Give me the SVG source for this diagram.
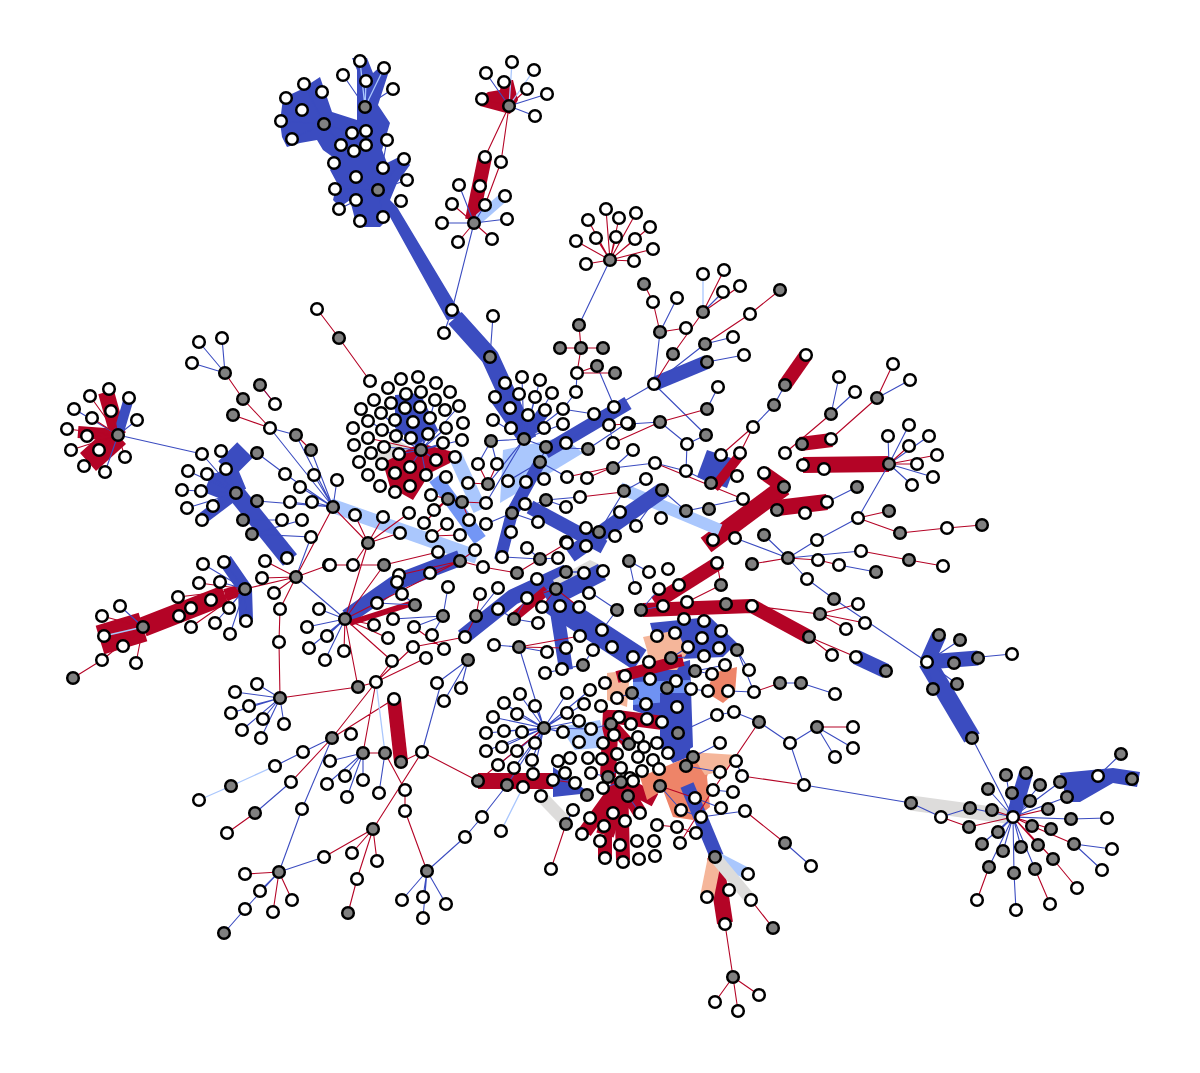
<svg xmlns="http://www.w3.org/2000/svg" width="1200" height="1073" viewBox="0 0 1200 1073">
<style>
.w{fill:#fff;stroke:#000;stroke-width:2.5}
.g{fill:#808080;stroke:#000;stroke-width:2.5}
.eb{stroke:#3b4cc0;stroke-width:1.1;fill:none}
.er{stroke:#b40426;stroke-width:1.1;fill:none}
.el{stroke:#aac7fd;stroke-width:1.3;fill:none}
.TB{stroke:#3b4cc0;fill:none}
.TR{stroke:#b40426;fill:none}
.TL{stroke:#aac7fd;fill:none}
.TM{stroke:#7396f5;fill:none}
.TP{stroke:#f5b69a;fill:none}
.TG{stroke:#dddcdb;fill:none}
.PB{fill:#3b4cc0}
.PR{fill:#b40426}
.PL{fill:#aac7fd}
.PM{fill:#6f92f3}
.PP{fill:#f5b69a}
.PS{fill:#ee8468}
.PG{fill:#dddcdb}
</style>
<rect width="1200" height="1073" fill="#fff"/>
<g id="connectors">
<g id="thick" stroke-linejoin="round">
<polygon class="PB" points="282,137 280,122 283,98 300,90 320,77 332,112 357,120 357,70 352,58 367,58 373,73 382,65 390,68 378,105 390,123 382,150 387,163 403,155 410,165 397,183 390,200 397,207 463,317 447,320 390,217 380,227 357,227 350,200 340,207 333,200 337,183 330,170 337,160 323,150 317,140 300,143 287,147"/>
<path class="TB" stroke-width="18" d="M455,318L490,357L528,440"/>
<polygon class="PR" points="480,98 488,92 500,90 502,80 513,80 518,100 510,114 480,106"/>
<path class="TR" stroke-width="14" d="M485,157L472,220"/>
<path class="TL" stroke-width="10" d="M474,223L505,196"/>
<path class="TB" stroke-width="14" d="M654,384L707,362"/>
<path class="TR" stroke-width="14" d="M806,355L785,385"/>
<polygon class="PB" points="707,450 737,460 727,488 697,477"/>
<path class="TR" stroke-width="10" d="M740,455L714,488"/>
<path class="TR" stroke-width="14" d="M800,444L832,440"/>
<path class="TR" stroke-width="16" d="M803,465L889,464"/>
<path class="TR" stroke-width="18" d="M706,545L784,487"/>
<path class="TR" stroke-width="14" d="M784,487L764,473"/>
<path class="TR" stroke-width="16" d="M777,508L827,502"/>
<path class="TL" stroke-width="12" d="M620,488L720,530"/>
<path class="TB" stroke-width="16" d="M570,555L663,490"/>
<path class="TB" stroke-width="12" d="M524,439L495,397M524,439L510,408M524,439L528,415M524,439L545,410"/>
<polygon class="PL" points="503,450 563,437 583,453 517,493 500,503"/>
<path class="TB" stroke-width="14" d="M545,452L628,403"/>
<path class="TB" stroke-width="14" d="M530,507L604,547"/>
<path class="TB" stroke-width="12" d="M540,462L512,513L500,560"/>
<path class="TL" stroke-width="14" d="M330,505L477,557"/>
<path class="TL" stroke-width="14" d="M455,455L480,510"/>
<path class="TM" stroke-width="14" d="M435,478L480,540"/>
<polygon class="PB" points="395,395 420,393 438,430 418,445 395,428"/>
<polygon class="PG" points="397,440 410,447 403,460 370,460"/>
<polygon class="PR" points="383,463 420,443 453,452 450,463 430,473 413,500 390,487"/>
<path class="TB" stroke-width="16" d="M347,617L397,582L460,558"/>
<path class="TR" stroke-width="6" d="M350,623L413,603"/>
<path class="TB" stroke-width="16" d="M463,637L513,597L567,572"/>
<path class="TR" stroke-width="10" d="M513,618L547,590"/>
<polygon class="PG" points="553,580 590,560 603,566 560,595"/>
<path class="TB" stroke-width="24" d="M548,600L640,660"/>
<path class="TB" stroke-width="18" d="M547,600L602,572"/>
<path class="TB" stroke-width="14" d="M556,605L566,670"/>
<polygon class="PB" points="650,623 710,617 737,643 723,657 660,660"/>
<polygon class="PB" points="633,677 690,660 693,747 677,757 660,720 633,710"/>
<polygon class="PP" points="643,637 677,630 687,653 677,670 650,670 647,650"/>
<polygon class="PS" points="713,673 737,667 735,693 723,703 707,693"/>
<polygon class="PP" points="607,673 630,670 627,707 607,700"/>
<polygon class="PM" points="633,682 690,680 690,700 633,705"/>
<path class="TR" stroke-width="14" d="M643,610L752,606L809,637"/>
<path class="TR" stroke-width="14" d="M655,603L720,562"/>
<path class="TR" stroke-width="12" d="M617,677L683,660"/>
<path class="TR" stroke-width="14" d="M617,717L663,723"/>
<path class="TR" stroke-width="16" d="M611,710L608,777"/>
<path class="TR" stroke-width="12" d="M611,724L629,744"/>
<path class="TR" stroke-width="16" d="M478,781L553,781"/>
<path class="TG" stroke-width="12" d="M540,795L567,823"/>
<path class="TR" stroke-width="18" d="M621,782L605,835"/>
<path class="TR" stroke-width="14" d="M621,782L623,860M621,782L640,813M621,782L585,832M621,782L655,800M605,835L605,858"/>
<polygon class="PB" points="660,693 690,693 690,757 673,763 660,747"/>
<polygon class="PS" points="640,777 700,752 710,765 707,777 710,807 693,820 673,817 663,790 647,800"/>
<polygon class="PP" points="690,752 737,755 727,770 705,775"/>
<polygon class="PL" points="560,727 600,720 607,747 575,750"/>
<polygon class="PB" points="553,767 590,793 553,797"/>
<path class="TB" stroke-width="14" d="M687,785L717,857"/>
<path class="TR" stroke-width="16" d="M715,857L725,923"/>
<path class="TP" stroke-width="14" d="M715,857L707,897"/>
<path class="TL" stroke-width="12" d="M715,857L748,874"/>
<path class="TG" stroke-width="12" d="M715,857L751,900"/>
<path class="TB" stroke-width="15" d="M856,657L886,671"/>
<path class="TB" stroke-width="15" d="M927,662L939,635M927,662L978,658"/>
<path class="TB" stroke-width="18" d="M927,662L972,738"/>
<path class="TG" stroke-width="15" d="M911,803L1013,817"/>
<path class="TB" stroke-width="14" d="M1013,817L1026,773"/>
<polygon class="PB" points="1060,773 1113,768 1140,772 1137,787 1113,783 1080,802 1067,802"/>
<path class="TR" stroke-width="16" d="M118,435L106,392"/>
<path class="TR" stroke-width="24" d="M118,435L88,462"/>
<path class="TR" stroke-width="12" d="M118,435L78,432"/>
<path class="TB" stroke-width="10" d="M118,435L129,398"/>
<path class="TB" stroke-width="22" d="M226,469L245,450M226,469L236,493M208,482L236,493"/>
<path class="TB" stroke-width="18" d="M236,493L290,560"/>
<path class="TB" stroke-width="12" d="M236,493L203,518"/>
<path class="TR" stroke-width="30" d="M100,640L143,627"/>
<path class="TR" stroke-width="20" d="M143,627L225,595"/>
<path class="TR" stroke-width="12" d="M225,595L245,589"/>
<path class="TB" stroke-width="14" d="M225,560L245,589L246,620"/>
<path class="TR" stroke-width="14" d="M394,699L401,762"/>
</g>
<path class="eb" d="M378,190L356,177M378,190L335,189M378,190L339,209M378,190L383,217M378,190L407,180M378,190L404,159M378,190L383,168M378,190L387,140M365,107L343,75M365,107L393,89M324,124L304,84M324,124L281,121M324,124L292,139M324,124L341,145M324,124L352,133M452,310L474,223M452,310L444,333M490,357L493,316M509,106L486,73M509,106L547,94M509,106L535,116M474,223L459,185M474,223L485,205M474,223L442,223M474,223L507,219M610,260L579,325M577,373L576,392M576,392L563,409
M654,384L660,332M660,332L677,298M654,384L705,344M703,312L723,292M733,337L705,344M744,355L707,362M654,384L706,435M654,384L614,407M718,387L707,409M785,385L774,405M774,405L753,427M839,377L831,414M855,392L831,414M877,398L910,380M889,464L888,436M889,464L909,425M889,464L929,436M889,464L933,477M889,464L912,485M889,464L858,518M857,487L827,502M858,518L817,540M817,540L788,558
M660,422L629,424M660,422L687,444M687,444L686,471M687,444L706,435M613,468L633,450M613,468L655,463M655,463L686,471M624,491L646,479M662,490L686,511M662,490L636,526M686,511L743,499M620,512L615,536M686,471L711,483M609,425L613,443M614,407L594,414
M788,558L861,551M788,558L807,579M807,579L834,599M834,599L927,662M839,565L876,572M801,683L835,694M817,727L853,748M817,727L835,757M817,727L791,743M927,662L960,640M927,662L1012,654M927,662L957,684M927,662L954,663M927,662L933,689M972,738L1013,817M911,803L804,785M788,558L764,535M788,558L735,538
M1013,817L1006,775M1013,817L988,789M1013,817L1012,793M1013,817L1030,801M1013,817L1040,785M1013,817L1060,782M1013,817L1067,797M1013,817L970,808M970,808L941,817M1013,817L998,832M1013,817L1071,819M1071,819L1107,818M1074,844L1112,849M1074,844L1102,870M1013,817L982,844M1013,817L1003,851M1013,817L1021,847M1013,817L989,867M1013,817L1014,873M1014,873L1016,910M1013,817L1035,869M1098,776L1121,754M941,817L911,803
M225,373L199,342M225,373L222,338M225,373L192,363M260,385L275,404M270,428L296,435M296,435L333,507M270,428L333,507M311,450L333,507M285,474L333,507M314,475L333,507M300,487L333,507M290,502L333,507M312,502L333,507M257,501L333,507M257,453L285,474M337,480L333,507M118,435L74,409M118,435L137,420M118,435L105,472M118,435L202,454
M236,493L202,454M236,493L221,451M236,493L188,471M236,493L207,474M236,493L226,469M236,493L182,490M236,493L201,491M236,493L187,508M236,493L213,506M236,493L202,520M243,520L282,520M252,534L302,520M296,577L345,619M252,534L311,537M296,577L311,537
M245,589L203,564M245,589L224,562M245,589L220,582M245,589L229,608M245,589L215,623M245,589L246,621M245,589L230,634M143,627L120,606M345,619L319,609M345,619L307,627M345,619L327,636M345,619L309,648M345,619L325,660
M280,698L257,684M280,698L235,692M280,698L249,706M280,698L231,713M280,698L263,719M280,698L284,724M280,698L242,730M280,698L261,738
M332,738L303,752M303,752L275,766M332,738L302,809M302,809L279,872M363,753L330,761M363,753L345,776M363,753L363,780M363,753L327,784M363,753L347,797M385,753L379,793M422,752L440,687M324,857L279,872M279,872L260,891M279,872L245,909M245,909L224,933M291,782L255,813M427,871L402,900M427,871L423,897M427,871L446,904M427,871L423,918M427,871L465,837M465,837L482,817M482,817L507,785
M421,450L405,408M421,450L413,422M421,450L430,418M421,450L396,436M421,450L411,438M421,450L428,434M421,450L443,443M421,450L384,447M421,450L399,454M421,450L436,460M421,450L410,467M421,450L426,475M421,450L446,428M421,450L420,407M421,450L435,400M421,450L406,394M421,450L391,403M421,450L462,440M421,450L459,406M421,450L368,421M421,450L381,413M421,450L421,392
M524,439L505,383M524,439L522,377M524,439L540,380M524,439L519,394M524,439L535,397M524,439L552,393M524,439L563,409M524,439L493,420M524,439L511,428M524,439L544,428M524,439L563,424M524,439L491,441M524,439L488,484
M524,439L546,447M546,447L566,443M546,447L588,449M540,462L546,447M540,462L567,477M540,462L508,481M512,513L486,524M512,513L538,522M512,513L511,532M512,513L546,500M546,500L580,497M546,500L566,507M599,532L586,528M599,532L616,537M599,532L586,546M599,532L624,491M540,559L527,548M540,559L558,558M540,559L502,557M566,572L584,573M566,572L603,571M556,589L589,593M556,589L560,606M514,619L498,609M514,619L538,623M514,619L527,598M476,616L498,588M443,616L448,587M443,616L432,635M443,616L414,627M443,616L393,619M468,660L437,683M468,660L461,688M468,660L444,701M415,605L402,594M415,605L377,603M519,647L494,645M519,647L547,652M583,665L562,669M583,665L545,673M583,665L593,650M629,561L649,572M629,561L635,588M641,610L659,589M641,610L663,606M617,610L602,630M617,610L590,592M671,658L688,647M671,658L704,656M695,671L712,674M695,671L725,665M737,650L749,670M632,693L617,698M632,693L646,704M667,688L677,707M611,724L619,717M611,724L591,729M678,733L717,715M759,722L734,712M759,722L790,743M629,744L614,735M629,744L638,737M693,757L720,743M686,766L720,772M608,777L591,773M608,777L621,768M621,782L603,788M587,795L575,783M628,796L640,813M660,786L681,810M566,824L573,810M785,843L811,866M562,409L594,414M566,443L614,406M597,366L614,406M627,423L588,449M491,441L478,464M491,441L497,464M524,439L486,503
M544,728L520,695M544,728L503,703M544,728L535,706M544,728L567,693M544,728L492,717M544,728L516,714M544,728L486,733M544,728L504,731M544,728L522,732M544,728L486,751M544,728L502,747M544,728L517,751M544,728L532,760M544,728L498,765M544,728L514,768M544,728L533,774M544,728L567,713M544,728L584,704M544,728L564,733M544,728L579,721M544,728L535,743M544,728L507,785M544,728L590,690M544,728L591,729M544,728L519,647M544,728L563,732
M713,790L733,792M695,798L721,808M701,817L745,811M681,810L701,817M737,650L754,692M779,683L801,683M754,692L728,691M708,691L691,689M717,715L734,712M742,776L736,761M804,785L790,743"/>
<path class="er" d="M339,338L317,309M339,338L370,381M509,106L504,82M509,106L527,89M509,106L482,99M509,106L485,157M509,106L501,162M474,223L452,204M474,223L458,242M474,223L492,239M474,223L480,186M501,162L485,205
M610,260L606,209M610,260L588,220M610,260L619,218M610,260L636,213M610,260L650,227M610,260L576,241M610,260L596,238M610,260L616,237M610,260L635,239M610,260L653,249M610,260L586,264M610,260L634,261
M579,325L581,348M581,348L577,373M577,373L597,366M577,373L615,373M560,348L581,348M603,348L581,348
M644,284L653,302M653,302L660,332M654,384L673,354M703,312L724,270M703,312L740,286M703,312L673,354M750,314L780,290M750,314L705,344M686,328L660,332M753,427L721,455M740,453L753,427M877,398L893,364M877,398L833,437M831,414L785,453M889,464L909,446M889,464L937,455M889,464L917,464M858,518L889,511M858,518L900,533M900,533L947,528M947,528L982,525M613,443L660,422M609,425L629,424M655,463L743,499M660,422L707,409
M788,558L818,560M818,560L839,565M861,551L909,560M909,560L943,566M820,614L858,604M820,614L846,629M820,614L865,623M820,614L752,606M809,637L832,655M809,637L856,657M780,683L754,692M817,727L853,727M804,785L742,776M788,558L752,564M717,563L721,585M721,585L687,602
M1013,817L1048,809M941,817L969,827M969,827L1013,817M1013,817L992,810M1013,817L1032,826M1013,817L1051,829M1032,826L1074,844M1013,817L1038,845M1013,817L1053,859M1053,859L1077,888M989,867L977,900M1035,869L1050,904
M225,373L243,399M243,399L270,428M270,428L233,415M275,404L260,385M311,450L296,435
M118,435L90,396M118,435L111,411M118,435L92,418M118,435L67,429M118,435L87,436M118,435L71,450M118,435L99,450M118,435L125,457M118,435L84,466M102,660L73,678M143,627L102,616M143,627L123,646M143,627L136,663M143,627L102,660M118,435L109,389
M296,577L265,561M296,577L262,578M296,577L274,593M296,577L280,609M296,577L329,565M296,577L245,589M296,577L333,507M280,609L279,642M279,642L280,698M280,698L358,687
M245,589L199,583M245,589L178,597M245,589L211,600M245,589L179,616M245,589L191,627M245,589L191,608
M345,619L344,651M345,619L374,625M345,619L392,661M345,619L358,687M345,619L384,565M330,565L384,565M384,565L438,552M345,619L460,561M345,619L388,638M368,543L333,507M368,543L345,619
M376,682L332,738M376,682L363,753M394,699L332,738M332,738L291,782M363,753L385,753M385,753L405,790M405,790L405,811M405,811L427,871M401,762L422,752M422,752L478,781M422,752L373,829M373,829L352,853M373,829L377,861M373,829L357,879M357,879L348,913M373,829L324,857M279,872L245,874M279,872L292,900M279,872L273,912M255,813L227,833M358,687L376,682
M421,450L455,457M421,450L382,464M421,450L395,473M421,450L368,438M448,499L431,495M448,499L462,502M462,502L486,503M462,502L469,520M448,499L434,510M448,499L424,523M368,543L383,517M368,543L400,533M368,543L409,513M368,543L355,515M368,543L353,565M460,561L475,550M460,561L483,567M460,561L430,573M460,561L399,575M488,484L468,483M488,484L478,464M488,484L497,464M613,467L587,478M613,467L567,477M623,492L580,497M540,559L567,543M540,559L517,573M517,573L483,567M556,589L542,607M556,589L579,607M556,589L527,598M476,616L465,637M476,616L480,594M519,647L566,648M519,647L580,636M432,536L460,535M447,524L432,536M376,682L413,647M376,682L426,658M376,682L392,661M414,627L444,649M413,647L465,637
M566,824L551,869M725,924L733,977M733,977L759,995M733,977L715,1002M733,977L738,1011M751,900L773,928M745,811L785,843M544,728L478,781M507,785L523,787M553,780L575,783M660,786L695,798M680,843L713,790M713,790L759,722M677,827L696,833M657,825L677,827"/>
<path class="el" d="M509,106L512,62M509,106L534,70M474,223L505,196M376,682L385,753M275,766L231,786M231,786L199,800M143,627L104,636M523,787L501,831M703,312L703,274M365,107L360,61M365,107L384,68M365,107L366,81"/>
</g>
<g id="nodes">
<g id="n1"><circle class="w" cx="360" cy="61" r="5.8"/></g>
<g id="n2"><circle class="w" cx="384" cy="68" r="5.8"/></g>
<g id="n3"><circle class="w" cx="343" cy="75" r="5.8"/></g>
<g id="n4"><circle class="w" cx="366" cy="81" r="5.8"/></g>
<g id="n5"><circle class="w" cx="393" cy="89" r="5.8"/></g>
<g id="n6"><circle class="w" cx="304" cy="84" r="5.8"/></g>
<g id="n7"><circle class="w" cx="322" cy="92" r="5.8"/></g>
<g id="n8"><circle class="w" cx="286" cy="98" r="5.8"/></g>
<g id="n9"><circle class="g" cx="365" cy="107" r="5.8"/></g>
<g id="n10"><circle class="w" cx="302" cy="110" r="5.8"/></g>
<g id="n11"><circle class="w" cx="281" cy="121" r="5.8"/></g>
<g id="n12"><circle class="g" cx="324" cy="124" r="5.8"/></g>
<g id="n13"><circle class="w" cx="292" cy="139" r="5.8"/></g>
<g id="n14"><circle class="w" cx="352" cy="133" r="5.8"/></g>
<g id="n15"><circle class="w" cx="366" cy="131" r="5.8"/></g>
<g id="n16"><circle class="w" cx="341" cy="145" r="5.8"/></g>
<g id="n17"><circle class="w" cx="354" cy="151" r="5.8"/></g>
<g id="n18"><circle class="w" cx="366" cy="145" r="5.8"/></g>
<g id="n19"><circle class="w" cx="387" cy="140" r="5.8"/></g>
<g id="n20"><circle class="w" cx="334" cy="163" r="5.8"/></g>
<g id="n21"><circle class="w" cx="383" cy="168" r="5.8"/></g>
<g id="n22"><circle class="w" cx="404" cy="159" r="5.8"/></g>
<g id="n23"><circle class="w" cx="356" cy="177" r="5.8"/></g>
<g id="n24"><circle class="w" cx="335" cy="189" r="5.8"/></g>
<g id="n25"><circle class="g" cx="378" cy="190" r="5.8"/></g>
<g id="n26"><circle class="w" cx="407" cy="180" r="5.8"/></g>
<g id="n27"><circle class="w" cx="356" cy="200" r="5.8"/></g>
<g id="n28"><circle class="w" cx="401" cy="201" r="5.8"/></g>
<g id="n29"><circle class="w" cx="339" cy="209" r="5.8"/></g>
<g id="n30"><circle class="w" cx="360" cy="221" r="5.8"/></g>
<g id="n31"><circle class="w" cx="383" cy="217" r="5.8"/></g>
<g id="n32"><circle class="w" cx="452" cy="310" r="5.8"/></g>
<g id="n33"><circle class="w" cx="493" cy="316" r="5.8"/></g>
<g id="n34"><circle class="w" cx="317" cy="309" r="5.8"/></g>
<g id="n35"><circle class="g" cx="339" cy="338" r="5.8"/></g>
<g id="n36"><circle class="w" cx="444" cy="333" r="5.8"/></g>
<g id="n37"><circle class="g" cx="490" cy="357" r="5.8"/></g>
<g id="n38"><circle class="w" cx="512" cy="62" r="5.8"/></g>
<g id="n39"><circle class="w" cx="486" cy="73" r="5.8"/></g>
<g id="n40"><circle class="w" cx="534" cy="70" r="5.8"/></g>
<g id="n41"><circle class="w" cx="504" cy="82" r="5.8"/></g>
<g id="n42"><circle class="w" cx="527" cy="89" r="5.8"/></g>
<g id="n43"><circle class="w" cx="547" cy="94" r="5.8"/></g>
<g id="n44"><circle class="w" cx="482" cy="99" r="5.8"/></g>
<g id="n45"><circle class="g" cx="509" cy="106" r="5.8"/></g>
<g id="n46"><circle class="w" cx="535" cy="116" r="5.8"/></g>
<g id="n47"><circle class="w" cx="485" cy="157" r="5.8"/></g>
<g id="n48"><circle class="w" cx="501" cy="162" r="5.8"/></g>
<g id="n49"><circle class="w" cx="459" cy="185" r="5.8"/></g>
<g id="n50"><circle class="w" cx="480" cy="186" r="5.8"/></g>
<g id="n51"><circle class="w" cx="505" cy="196" r="5.8"/></g>
<g id="n52"><circle class="w" cx="452" cy="204" r="5.8"/></g>
<g id="n53"><circle class="w" cx="485" cy="205" r="5.8"/></g>
<g id="n54"><circle class="g" cx="474" cy="223" r="5.8"/></g>
<g id="n55"><circle class="w" cx="442" cy="223" r="5.8"/></g>
<g id="n56"><circle class="w" cx="507" cy="219" r="5.8"/></g>
<g id="n57"><circle class="w" cx="458" cy="242" r="5.8"/></g>
<g id="n58"><circle class="w" cx="492" cy="239" r="5.8"/></g>
<g id="n59"><circle class="g" cx="610" cy="260" r="5.8"/></g>
<g id="n60"><circle class="w" cx="606" cy="209" r="5.8"/></g>
<g id="n61"><circle class="w" cx="588" cy="220" r="5.8"/></g>
<g id="n62"><circle class="w" cx="619" cy="218" r="5.8"/></g>
<g id="n63"><circle class="w" cx="636" cy="213" r="5.8"/></g>
<g id="n64"><circle class="w" cx="650" cy="227" r="5.8"/></g>
<g id="n65"><circle class="w" cx="576" cy="241" r="5.8"/></g>
<g id="n66"><circle class="w" cx="596" cy="238" r="5.8"/></g>
<g id="n67"><circle class="w" cx="616" cy="237" r="5.8"/></g>
<g id="n68"><circle class="w" cx="635" cy="239" r="5.8"/></g>
<g id="n69"><circle class="w" cx="653" cy="249" r="5.8"/></g>
<g id="n70"><circle class="w" cx="586" cy="264" r="5.8"/></g>
<g id="n71"><circle class="w" cx="634" cy="261" r="5.8"/></g>
<g id="n72"><circle class="g" cx="579" cy="325" r="5.8"/></g>
<g id="n73"><circle class="g" cx="560" cy="348" r="5.8"/></g>
<g id="n74"><circle class="g" cx="581" cy="348" r="5.8"/></g>
<g id="n75"><circle class="g" cx="603" cy="348" r="5.8"/></g>
<g id="n76"><circle class="w" cx="577" cy="373" r="5.8"/></g>
<g id="n77"><circle class="g" cx="597" cy="366" r="5.8"/></g>
<g id="n78"><circle class="g" cx="615" cy="373" r="5.8"/></g>
<g id="n79"><circle class="w" cx="576" cy="392" r="5.8"/></g>
<g id="n80"><circle class="w" cx="703" cy="274" r="5.8"/></g>
<g id="n81"><circle class="w" cx="724" cy="270" r="5.8"/></g>
<g id="n82"><circle class="g" cx="644" cy="284" r="5.8"/></g>
<g id="n83"><circle class="w" cx="723" cy="292" r="5.8"/></g>
<g id="n84"><circle class="w" cx="740" cy="286" r="5.8"/></g>
<g id="n85"><circle class="g" cx="780" cy="290" r="5.8"/></g>
<g id="n86"><circle class="w" cx="653" cy="302" r="5.8"/></g>
<g id="n87"><circle class="w" cx="677" cy="298" r="5.8"/></g>
<g id="n88"><circle class="g" cx="703" cy="312" r="5.8"/></g>
<g id="n89"><circle class="w" cx="750" cy="314" r="5.8"/></g>
<g id="n90"><circle class="g" cx="660" cy="332" r="5.8"/></g>
<g id="n91"><circle class="w" cx="686" cy="328" r="5.8"/></g>
<g id="n92"><circle class="w" cx="733" cy="337" r="5.8"/></g>
<g id="n93"><circle class="g" cx="673" cy="354" r="5.8"/></g>
<g id="n94"><circle class="g" cx="705" cy="344" r="5.8"/></g>
<g id="n95"><circle class="g" cx="707" cy="362" r="5.8"/></g>
<g id="n96"><circle class="w" cx="744" cy="355" r="5.8"/></g>
<g id="n97"><circle class="w" cx="654" cy="384" r="5.8"/></g>
<g id="n98"><circle class="w" cx="806" cy="355" r="5.8"/></g>
<g id="n99"><circle class="g" cx="785" cy="385" r="5.8"/></g>
<g id="n100"><circle class="g" cx="774" cy="405" r="5.8"/></g>
<g id="n101"><circle class="w" cx="753" cy="427" r="5.8"/></g>
<g id="n102"><circle class="w" cx="718" cy="387" r="5.8"/></g>
<g id="n103"><circle class="g" cx="707" cy="409" r="5.8"/></g>
<g id="n104"><circle class="g" cx="706" cy="435" r="5.8"/></g>
<g id="n105"><circle class="w" cx="721" cy="455" r="5.8"/></g>
<g id="n106"><circle class="w" cx="740" cy="453" r="5.8"/></g>
<g id="n107"><circle class="w" cx="737" cy="476" r="5.8"/></g>
<g id="n108"><circle class="w" cx="687" cy="444" r="5.8"/></g>
<g id="n109"><circle class="w" cx="686" cy="471" r="5.8"/></g>
<g id="n110"><circle class="g" cx="660" cy="422" r="5.8"/></g>
<g id="n111"><circle class="w" cx="614" cy="407" r="5.8"/></g>
<g id="n112"><circle class="w" cx="629" cy="424" r="5.8"/></g>
<g id="n113"><circle class="w" cx="609" cy="425" r="5.8"/></g>
<g id="n114"><circle class="w" cx="613" cy="443" r="5.8"/></g>
<g id="n115"><circle class="w" cx="633" cy="450" r="5.8"/></g>
<g id="n116"><circle class="g" cx="613" cy="468" r="5.8"/></g>
<g id="n117"><circle class="w" cx="655" cy="463" r="5.8"/></g>
<g id="n118"><circle class="w" cx="646" cy="479" r="5.8"/></g>
<g id="n119"><circle class="g" cx="624" cy="491" r="5.8"/></g>
<g id="n120"><circle class="g" cx="662" cy="490" r="5.8"/></g>
<g id="n121"><circle class="w" cx="636" cy="526" r="5.8"/></g>
<g id="n122"><circle class="w" cx="661" cy="518" r="5.8"/></g>
<g id="n123"><circle class="w" cx="620" cy="512" r="5.8"/></g>
<g id="n124"><circle class="w" cx="615" cy="536" r="5.8"/></g>
<g id="n125"><circle class="g" cx="686" cy="511" r="5.8"/></g>
<g id="n126"><circle class="g" cx="709" cy="509" r="5.8"/></g>
<g id="n127"><circle class="g" cx="711" cy="483" r="5.8"/></g>
<g id="n128"><circle class="w" cx="743" cy="499" r="5.8"/></g>
<g id="n129"><circle class="w" cx="764" cy="473" r="5.8"/></g>
<g id="n130"><circle class="w" cx="785" cy="453" r="5.8"/></g>
<g id="n131"><circle class="g" cx="802" cy="444" r="5.8"/></g>
<g id="n132"><circle class="w" cx="831" cy="439" r="5.8"/></g>
<g id="n133"><circle class="w" cx="803" cy="465" r="5.8"/></g>
<g id="n134"><circle class="w" cx="824" cy="469" r="5.8"/></g>
<g id="n135"><circle class="g" cx="784" cy="487" r="5.8"/></g>
<g id="n136"><circle class="g" cx="777" cy="510" r="5.8"/></g>
<g id="n137"><circle class="w" cx="805" cy="513" r="5.8"/></g>
<g id="n138"><circle class="w" cx="827" cy="502" r="5.8"/></g>
<g id="n139"><circle class="g" cx="764" cy="535" r="5.8"/></g>
<g id="n140"><circle class="w" cx="735" cy="538" r="5.8"/></g>
<g id="n141"><circle class="w" cx="713" cy="540" r="5.8"/></g>
<g id="n142"><circle class="w" cx="839" cy="377" r="5.8"/></g>
<g id="n143"><circle class="w" cx="855" cy="392" r="5.8"/></g>
<g id="n144"><circle class="g" cx="831" cy="414" r="5.8"/></g>
<g id="n145"><circle class="g" cx="877" cy="398" r="5.8"/></g>
<g id="n146"><circle class="w" cx="893" cy="364" r="5.8"/></g>
<g id="n147"><circle class="w" cx="910" cy="380" r="5.8"/></g>
<g id="n148"><circle class="g" cx="889" cy="464" r="5.8"/></g>
<g id="n149"><circle class="w" cx="888" cy="436" r="5.8"/></g>
<g id="n150"><circle class="w" cx="909" cy="425" r="5.8"/></g>
<g id="n151"><circle class="w" cx="909" cy="446" r="5.8"/></g>
<g id="n152"><circle class="w" cx="929" cy="436" r="5.8"/></g>
<g id="n153"><circle class="w" cx="937" cy="455" r="5.8"/></g>
<g id="n154"><circle class="w" cx="917" cy="464" r="5.8"/></g>
<g id="n155"><circle class="w" cx="933" cy="477" r="5.8"/></g>
<g id="n156"><circle class="w" cx="912" cy="485" r="5.8"/></g>
<g id="n157"><circle class="g" cx="857" cy="487" r="5.8"/></g>
<g id="n158"><circle class="w" cx="858" cy="518" r="5.8"/></g>
<g id="n159"><circle class="g" cx="889" cy="511" r="5.8"/></g>
<g id="n160"><circle class="g" cx="900" cy="533" r="5.8"/></g>
<g id="n161"><circle class="w" cx="947" cy="528" r="5.8"/></g>
<g id="n162"><circle class="g" cx="982" cy="525" r="5.8"/></g>
<g id="n163"><circle class="w" cx="817" cy="540" r="5.8"/></g>
<g id="n164"><circle class="g" cx="788" cy="558" r="5.8"/></g>
<g id="n165"><circle class="w" cx="818" cy="560" r="5.8"/></g>
<g id="n166"><circle class="w" cx="839" cy="565" r="5.8"/></g>
<g id="n167"><circle class="w" cx="861" cy="551" r="5.8"/></g>
<g id="n168"><circle class="g" cx="876" cy="572" r="5.8"/></g>
<g id="n169"><circle class="g" cx="909" cy="560" r="5.8"/></g>
<g id="n170"><circle class="w" cx="943" cy="566" r="5.8"/></g>
<g id="n171"><circle class="w" cx="807" cy="579" r="5.8"/></g>
<g id="n172"><circle class="g" cx="834" cy="599" r="5.8"/></g>
<g id="n173"><circle class="w" cx="858" cy="604" r="5.8"/></g>
<g id="n174"><circle class="g" cx="820" cy="614" r="5.8"/></g>
<g id="n175"><circle class="w" cx="846" cy="629" r="5.8"/></g>
<g id="n176"><circle class="w" cx="865" cy="623" r="5.8"/></g>
<g id="n177"><circle class="g" cx="809" cy="637" r="5.8"/></g>
<g id="n178"><circle class="w" cx="832" cy="655" r="5.8"/></g>
<g id="n179"><circle class="w" cx="856" cy="657" r="5.8"/></g>
<g id="n180"><circle class="g" cx="886" cy="671" r="5.8"/></g>
<g id="n181"><circle class="g" cx="780" cy="683" r="5.8"/></g>
<g id="n182"><circle class="g" cx="801" cy="683" r="5.8"/></g>
<g id="n183"><circle class="w" cx="835" cy="694" r="5.8"/></g>
<g id="n184"><circle class="g" cx="817" cy="727" r="5.8"/></g>
<g id="n185"><circle class="w" cx="853" cy="727" r="5.8"/></g>
<g id="n186"><circle class="w" cx="790" cy="743" r="5.8"/></g>
<g id="n187"><circle class="w" cx="853" cy="748" r="5.8"/></g>
<g id="n188"><circle class="w" cx="835" cy="757" r="5.8"/></g>
<g id="n189"><circle class="g" cx="939" cy="635" r="5.8"/></g>
<g id="n190"><circle class="g" cx="960" cy="640" r="5.8"/></g>
<g id="n191"><circle class="w" cx="927" cy="662" r="5.8"/></g>
<g id="n192"><circle class="g" cx="954" cy="663" r="5.8"/></g>
<g id="n193"><circle class="g" cx="978" cy="658" r="5.8"/></g>
<g id="n194"><circle class="w" cx="1012" cy="654" r="5.8"/></g>
<g id="n195"><circle class="g" cx="933" cy="689" r="5.8"/></g>
<g id="n196"><circle class="g" cx="957" cy="684" r="5.8"/></g>
<g id="n197"><circle class="g" cx="972" cy="738" r="5.8"/></g>
<g id="n198"><circle class="g" cx="1121" cy="754" r="5.8"/></g>
<g id="n199"><circle class="w" cx="1098" cy="776" r="5.8"/></g>
<g id="n200"><circle class="g" cx="1132" cy="779" r="5.8"/></g>
<g id="n201"><circle class="g" cx="1006" cy="775" r="5.8"/></g>
<g id="n202"><circle class="g" cx="1026" cy="773" r="5.8"/></g>
<g id="n203"><circle class="g" cx="1040" cy="785" r="5.8"/></g>
<g id="n204"><circle class="g" cx="1060" cy="782" r="5.8"/></g>
<g id="n205"><circle class="g" cx="988" cy="789" r="5.8"/></g>
<g id="n206"><circle class="g" cx="1012" cy="793" r="5.8"/></g>
<g id="n207"><circle class="g" cx="1030" cy="801" r="5.8"/></g>
<g id="n208"><circle class="g" cx="1067" cy="797" r="5.8"/></g>
<g id="n209"><circle class="g" cx="911" cy="803" r="5.8"/></g>
<g id="n210"><circle class="w" cx="941" cy="817" r="5.8"/></g>
<g id="n211"><circle class="g" cx="970" cy="808" r="5.8"/></g>
<g id="n212"><circle class="g" cx="992" cy="810" r="5.8"/></g>
<g id="n213"><circle class="w" cx="1013" cy="817" r="5.8"/></g>
<g id="n214"><circle class="g" cx="1048" cy="809" r="5.8"/></g>
<g id="n215"><circle class="g" cx="969" cy="827" r="5.8"/></g>
<g id="n216"><circle class="g" cx="998" cy="832" r="5.8"/></g>
<g id="n217"><circle class="g" cx="1032" cy="826" r="5.8"/></g>
<g id="n218"><circle class="g" cx="1051" cy="829" r="5.8"/></g>
<g id="n219"><circle class="g" cx="1071" cy="819" r="5.8"/></g>
<g id="n220"><circle class="w" cx="1107" cy="818" r="5.8"/></g>
<g id="n221"><circle class="g" cx="982" cy="844" r="5.8"/></g>
<g id="n222"><circle class="g" cx="1003" cy="851" r="5.8"/></g>
<g id="n223"><circle class="g" cx="1021" cy="847" r="5.8"/></g>
<g id="n224"><circle class="g" cx="1038" cy="845" r="5.8"/></g>
<g id="n225"><circle class="g" cx="1074" cy="844" r="5.8"/></g>
<g id="n226"><circle class="w" cx="1112" cy="849" r="5.8"/></g>
<g id="n227"><circle class="g" cx="1053" cy="859" r="5.8"/></g>
<g id="n228"><circle class="g" cx="989" cy="867" r="5.8"/></g>
<g id="n229"><circle class="g" cx="1014" cy="873" r="5.8"/></g>
<g id="n230"><circle class="g" cx="1035" cy="869" r="5.8"/></g>
<g id="n231"><circle class="w" cx="1102" cy="870" r="5.8"/></g>
<g id="n232"><circle class="w" cx="1077" cy="888" r="5.8"/></g>
<g id="n233"><circle class="w" cx="977" cy="900" r="5.8"/></g>
<g id="n234"><circle class="w" cx="1016" cy="910" r="5.8"/></g>
<g id="n235"><circle class="w" cx="1050" cy="904" r="5.8"/></g>
<g id="n236"><circle class="w" cx="804" cy="785" r="5.8"/></g>
<g id="n237"><circle class="g" cx="785" cy="843" r="5.8"/></g>
<g id="n238"><circle class="w" cx="811" cy="866" r="5.8"/></g>
<g id="n239"><circle class="w" cx="199" cy="342" r="5.8"/></g>
<g id="n240"><circle class="w" cx="222" cy="338" r="5.8"/></g>
<g id="n241"><circle class="w" cx="192" cy="363" r="5.8"/></g>
<g id="n242"><circle class="g" cx="225" cy="373" r="5.8"/></g>
<g id="n243"><circle class="g" cx="260" cy="385" r="5.8"/></g>
<g id="n244"><circle class="g" cx="243" cy="399" r="5.8"/></g>
<g id="n245"><circle class="w" cx="275" cy="404" r="5.8"/></g>
<g id="n246"><circle class="g" cx="233" cy="415" r="5.8"/></g>
<g id="n247"><circle class="w" cx="270" cy="428" r="5.8"/></g>
<g id="n248"><circle class="g" cx="296" cy="435" r="5.8"/></g>
<g id="n249"><circle class="g" cx="311" cy="450" r="5.8"/></g>
<g id="n250"><circle class="w" cx="109" cy="389" r="5.8"/></g>
<g id="n251"><circle class="w" cx="129" cy="398" r="5.8"/></g>
<g id="n252"><circle class="w" cx="90" cy="396" r="5.8"/></g>
<g id="n253"><circle class="w" cx="74" cy="409" r="5.8"/></g>
<g id="n254"><circle class="w" cx="111" cy="411" r="5.8"/></g>
<g id="n255"><circle class="w" cx="92" cy="418" r="5.8"/></g>
<g id="n256"><circle class="w" cx="137" cy="420" r="5.8"/></g>
<g id="n257"><circle class="w" cx="67" cy="429" r="5.8"/></g>
<g id="n258"><circle class="w" cx="87" cy="436" r="5.8"/></g>
<g id="n259"><circle class="g" cx="118" cy="435" r="5.8"/></g>
<g id="n260"><circle class="w" cx="71" cy="450" r="5.8"/></g>
<g id="n261"><circle class="w" cx="99" cy="450" r="5.8"/></g>
<g id="n262"><circle class="w" cx="125" cy="457" r="5.8"/></g>
<g id="n263"><circle class="w" cx="84" cy="466" r="5.8"/></g>
<g id="n264"><circle class="w" cx="105" cy="472" r="5.8"/></g>
<g id="n265"><circle class="w" cx="202" cy="454" r="5.8"/></g>
<g id="n266"><circle class="w" cx="221" cy="451" r="5.8"/></g>
<g id="n267"><circle class="g" cx="257" cy="453" r="5.8"/></g>
<g id="n268"><circle class="w" cx="188" cy="471" r="5.8"/></g>
<g id="n269"><circle class="w" cx="207" cy="474" r="5.8"/></g>
<g id="n270"><circle class="w" cx="226" cy="469" r="5.8"/></g>
<g id="n271"><circle class="w" cx="285" cy="474" r="5.8"/></g>
<g id="n272"><circle class="w" cx="314" cy="475" r="5.8"/></g>
<g id="n273"><circle class="w" cx="182" cy="490" r="5.8"/></g>
<g id="n274"><circle class="w" cx="201" cy="491" r="5.8"/></g>
<g id="n275"><circle class="g" cx="236" cy="493" r="5.8"/></g>
<g id="n276"><circle class="w" cx="300" cy="487" r="5.8"/></g>
<g id="n277"><circle class="w" cx="337" cy="480" r="5.8"/></g>
<g id="n278"><circle class="w" cx="187" cy="508" r="5.8"/></g>
<g id="n279"><circle class="w" cx="213" cy="506" r="5.8"/></g>
<g id="n280"><circle class="g" cx="257" cy="501" r="5.8"/></g>
<g id="n281"><circle class="w" cx="290" cy="502" r="5.8"/></g>
<g id="n282"><circle class="w" cx="312" cy="502" r="5.8"/></g>
<g id="n283"><circle class="g" cx="333" cy="507" r="5.8"/></g>
<g id="n284"><circle class="w" cx="202" cy="520" r="5.8"/></g>
<g id="n285"><circle class="g" cx="243" cy="520" r="5.8"/></g>
<g id="n286"><circle class="w" cx="282" cy="520" r="5.8"/></g>
<g id="n287"><circle class="w" cx="302" cy="520" r="5.8"/></g>
<g id="n288"><circle class="g" cx="252" cy="534" r="5.8"/></g>
<g id="n289"><circle class="w" cx="311" cy="537" r="5.8"/></g>
<g id="n290"><circle class="w" cx="265" cy="561" r="5.8"/></g>
<g id="n291"><circle class="w" cx="287" cy="558" r="5.8"/></g>
<g id="n292"><circle class="g" cx="296" cy="577" r="5.8"/></g>
<g id="n293"><circle class="w" cx="329" cy="565" r="5.8"/></g>
<g id="n294"><circle class="w" cx="262" cy="578" r="5.8"/></g>
<g id="n295"><circle class="w" cx="274" cy="593" r="5.8"/></g>
<g id="n296"><circle class="w" cx="280" cy="609" r="5.8"/></g>
<g id="n297"><circle class="w" cx="279" cy="642" r="5.8"/></g>
<g id="n298"><circle class="w" cx="203" cy="564" r="5.8"/></g>
<g id="n299"><circle class="w" cx="224" cy="562" r="5.8"/></g>
<g id="n300"><circle class="w" cx="199" cy="583" r="5.8"/></g>
<g id="n301"><circle class="w" cx="220" cy="582" r="5.8"/></g>
<g id="n302"><circle class="g" cx="245" cy="589" r="5.8"/></g>
<g id="n303"><circle class="w" cx="178" cy="597" r="5.8"/></g>
<g id="n304"><circle class="w" cx="211" cy="600" r="5.8"/></g>
<g id="n305"><circle class="w" cx="191" cy="608" r="5.8"/></g>
<g id="n306"><circle class="w" cx="229" cy="608" r="5.8"/></g>
<g id="n307"><circle class="w" cx="179" cy="616" r="5.8"/></g>
<g id="n308"><circle class="w" cx="191" cy="627" r="5.8"/></g>
<g id="n309"><circle class="w" cx="215" cy="623" r="5.8"/></g>
<g id="n310"><circle class="w" cx="246" cy="621" r="5.8"/></g>
<g id="n311"><circle class="w" cx="230" cy="634" r="5.8"/></g>
<g id="n312"><circle class="w" cx="120" cy="606" r="5.8"/></g>
<g id="n313"><circle class="w" cx="102" cy="616" r="5.8"/></g>
<g id="n314"><circle class="g" cx="143" cy="627" r="5.8"/></g>
<g id="n315"><circle class="w" cx="104" cy="636" r="5.8"/></g>
<g id="n316"><circle class="w" cx="123" cy="646" r="5.8"/></g>
<g id="n317"><circle class="w" cx="102" cy="660" r="5.8"/></g>
<g id="n318"><circle class="w" cx="136" cy="663" r="5.8"/></g>
<g id="n319"><circle class="g" cx="73" cy="678" r="5.8"/></g>
<g id="n320"><circle class="w" cx="319" cy="609" r="5.8"/></g>
<g id="n321"><circle class="w" cx="307" cy="627" r="5.8"/></g>
<g id="n322"><circle class="w" cx="327" cy="636" r="5.8"/></g>
<g id="n323"><circle class="w" cx="309" cy="648" r="5.8"/></g>
<g id="n324"><circle class="w" cx="325" cy="660" r="5.8"/></g>
<g id="n325"><circle class="g" cx="345" cy="619" r="5.8"/></g>
<g id="n326"><circle class="g" cx="280" cy="698" r="5.8"/></g>
<g id="n327"><circle class="w" cx="257" cy="684" r="5.8"/></g>
<g id="n328"><circle class="w" cx="235" cy="692" r="5.8"/></g>
<g id="n329"><circle class="w" cx="249" cy="706" r="5.8"/></g>
<g id="n330"><circle class="w" cx="231" cy="713" r="5.8"/></g>
<g id="n331"><circle class="w" cx="263" cy="719" r="5.8"/></g>
<g id="n332"><circle class="w" cx="284" cy="724" r="5.8"/></g>
<g id="n333"><circle class="w" cx="242" cy="730" r="5.8"/></g>
<g id="n334"><circle class="w" cx="261" cy="738" r="5.8"/></g>
<g id="n335"><circle class="w" cx="370" cy="381" r="5.8"/></g>
<g id="n336"><circle class="w" cx="401" cy="379" r="5.8"/></g>
<g id="n337"><circle class="w" cx="418" cy="377" r="5.8"/></g>
<g id="n338"><circle class="w" cx="436" cy="383" r="5.8"/></g>
<g id="n339"><circle class="w" cx="388" cy="388" r="5.8"/></g>
<g id="n340"><circle class="w" cx="406" cy="394" r="5.8"/></g>
<g id="n341"><circle class="w" cx="421" cy="392" r="5.8"/></g>
<g id="n342"><circle class="w" cx="450" cy="392" r="5.8"/></g>
<g id="n343"><circle class="w" cx="374" cy="400" r="5.8"/></g>
<g id="n344"><circle class="w" cx="391" cy="403" r="5.8"/></g>
<g id="n345"><circle class="w" cx="405" cy="408" r="5.8"/></g>
<g id="n346"><circle class="w" cx="420" cy="407" r="5.8"/></g>
<g id="n347"><circle class="w" cx="435" cy="400" r="5.8"/></g>
<g id="n348"><circle class="w" cx="445" cy="410" r="5.8"/></g>
<g id="n349"><circle class="w" cx="459" cy="406" r="5.8"/></g>
<g id="n350"><circle class="w" cx="361" cy="409" r="5.8"/></g>
<g id="n351"><circle class="w" cx="381" cy="413" r="5.8"/></g>
<g id="n352"><circle class="w" cx="395" cy="420" r="5.8"/></g>
<g id="n353"><circle class="w" cx="413" cy="422" r="5.8"/></g>
<g id="n354"><circle class="w" cx="430" cy="418" r="5.8"/></g>
<g id="n355"><circle class="w" cx="446" cy="428" r="5.8"/></g>
<g id="n356"><circle class="w" cx="463" cy="423" r="5.8"/></g>
<g id="n357"><circle class="w" cx="353" cy="428" r="5.8"/></g>
<g id="n358"><circle class="w" cx="368" cy="421" r="5.8"/></g>
<g id="n359"><circle class="w" cx="382" cy="430" r="5.8"/></g>
<g id="n360"><circle class="w" cx="396" cy="436" r="5.8"/></g>
<g id="n361"><circle class="w" cx="411" cy="438" r="5.8"/></g>
<g id="n362"><circle class="w" cx="428" cy="434" r="5.8"/></g>
<g id="n363"><circle class="w" cx="443" cy="443" r="5.8"/></g>
<g id="n364"><circle class="w" cx="462" cy="440" r="5.8"/></g>
<g id="n365"><circle class="w" cx="354" cy="445" r="5.8"/></g>
<g id="n366"><circle class="w" cx="368" cy="438" r="5.8"/></g>
<g id="n367"><circle class="w" cx="384" cy="447" r="5.8"/></g>
<g id="n368"><circle class="w" cx="371" cy="453" r="5.8"/></g>
<g id="n369"><circle class="w" cx="399" cy="454" r="5.8"/></g>
<g id="n370"><circle class="g" cx="421" cy="450" r="5.8"/></g>
<g id="n371"><circle class="w" cx="436" cy="460" r="5.8"/></g>
<g id="n372"><circle class="w" cx="455" cy="457" r="5.8"/></g>
<g id="n373"><circle class="w" cx="359" cy="462" r="5.8"/></g>
<g id="n374"><circle class="w" cx="382" cy="464" r="5.8"/></g>
<g id="n375"><circle class="w" cx="410" cy="467" r="5.8"/></g>
<g id="n376"><circle class="w" cx="395" cy="473" r="5.8"/></g>
<g id="n377"><circle class="w" cx="426" cy="475" r="5.8"/></g>
<g id="n378"><circle class="w" cx="368" cy="475" r="5.8"/></g>
<g id="n379"><circle class="w" cx="446" cy="477" r="5.8"/></g>
<g id="n380"><circle class="w" cx="380" cy="486" r="5.8"/></g>
<g id="n381"><circle class="w" cx="410" cy="486" r="5.8"/></g>
<g id="n382"><circle class="w" cx="395" cy="492" r="5.8"/></g>
<g id="n383"><circle class="w" cx="505" cy="383" r="5.8"/></g>
<g id="n384"><circle class="w" cx="522" cy="377" r="5.8"/></g>
<g id="n385"><circle class="w" cx="540" cy="380" r="5.8"/></g>
<g id="n386"><circle class="w" cx="495" cy="397" r="5.8"/></g>
<g id="n387"><circle class="w" cx="519" cy="394" r="5.8"/></g>
<g id="n388"><circle class="w" cx="535" cy="397" r="5.8"/></g>
<g id="n389"><circle class="w" cx="552" cy="393" r="5.8"/></g>
<g id="n390"><circle class="w" cx="510" cy="408" r="5.8"/></g>
<g id="n391"><circle class="w" cx="528" cy="415" r="5.8"/></g>
<g id="n392"><circle class="w" cx="545" cy="410" r="5.8"/></g>
<g id="n393"><circle class="w" cx="563" cy="409" r="5.8"/></g>
<g id="n394"><circle class="w" cx="493" cy="420" r="5.8"/></g>
<g id="n395"><circle class="w" cx="511" cy="428" r="5.8"/></g>
<g id="n396"><circle class="w" cx="544" cy="428" r="5.8"/></g>
<g id="n397"><circle class="w" cx="563" cy="424" r="5.8"/></g>
<g id="n398"><circle class="w" cx="594" cy="414" r="5.8"/></g>
<g id="n399"><circle class="w" cx="627" cy="423" r="5.8"/></g>
<g id="n400"><circle class="g" cx="491" cy="441" r="5.8"/></g>
<g id="n401"><circle class="g" cx="524" cy="439" r="5.8"/></g>
<g id="n402"><circle class="g" cx="546" cy="447" r="5.8"/></g>
<g id="n403"><circle class="w" cx="566" cy="443" r="5.8"/></g>
<g id="n404"><circle class="g" cx="588" cy="449" r="5.8"/></g>
<g id="n405"><circle class="w" cx="478" cy="464" r="5.8"/></g>
<g id="n406"><circle class="w" cx="497" cy="464" r="5.8"/></g>
<g id="n407"><circle class="g" cx="540" cy="462" r="5.8"/></g>
<g id="n408"><circle class="w" cx="468" cy="483" r="5.8"/></g>
<g id="n409"><circle class="g" cx="488" cy="484" r="5.8"/></g>
<g id="n410"><circle class="w" cx="508" cy="481" r="5.8"/></g>
<g id="n411"><circle class="w" cx="526" cy="482" r="5.8"/></g>
<g id="n412"><circle class="w" cx="544" cy="479" r="5.8"/></g>
<g id="n413"><circle class="w" cx="567" cy="477" r="5.8"/></g>
<g id="n414"><circle class="w" cx="587" cy="478" r="5.8"/></g>
<g id="n415"><circle class="w" cx="431" cy="495" r="5.8"/></g>
<g id="n416"><circle class="g" cx="448" cy="499" r="5.8"/></g>
<g id="n417"><circle class="g" cx="462" cy="502" r="5.8"/></g>
<g id="n418"><circle class="w" cx="486" cy="503" r="5.8"/></g>
<g id="n419"><circle class="w" cx="525" cy="504" r="5.8"/></g>
<g id="n420"><circle class="g" cx="546" cy="500" r="5.8"/></g>
<g id="n421"><circle class="w" cx="580" cy="497" r="5.8"/></g>
<g id="n422"><circle class="w" cx="566" cy="507" r="5.8"/></g>
<g id="n423"><circle class="w" cx="434" cy="510" r="5.8"/></g>
<g id="n424"><circle class="w" cx="424" cy="523" r="5.8"/></g>
<g id="n425"><circle class="w" cx="447" cy="524" r="5.8"/></g>
<g id="n426"><circle class="w" cx="469" cy="520" r="5.8"/></g>
<g id="n427"><circle class="w" cx="486" cy="524" r="5.8"/></g>
<g id="n428"><circle class="g" cx="512" cy="513" r="5.8"/></g>
<g id="n429"><circle class="w" cx="538" cy="522" r="5.8"/></g>
<g id="n430"><circle class="w" cx="511" cy="532" r="5.8"/></g>
<g id="n431"><circle class="w" cx="586" cy="528" r="5.8"/></g>
<g id="n432"><circle class="g" cx="599" cy="532" r="5.8"/></g>
<g id="n433"><circle class="w" cx="566" cy="542" r="5.8"/></g>
<g id="n434"><circle class="w" cx="586" cy="546" r="5.8"/></g>
<g id="n435"><circle class="w" cx="432" cy="536" r="5.8"/></g>
<g id="n436"><circle class="w" cx="460" cy="535" r="5.8"/></g>
<g id="n437"><circle class="w" cx="383" cy="517" r="5.8"/></g>
<g id="n438"><circle class="w" cx="409" cy="513" r="5.8"/></g>
<g id="n439"><circle class="w" cx="355" cy="515" r="5.8"/></g>
<g id="n440"><circle class="g" cx="368" cy="543" r="5.8"/></g>
<g id="n441"><circle class="w" cx="400" cy="533" r="5.8"/></g>
<g id="n442"><circle class="w" cx="438" cy="552" r="5.8"/></g>
<g id="n443"><circle class="w" cx="475" cy="550" r="5.8"/></g>
<g id="n444"><circle class="g" cx="460" cy="561" r="5.8"/></g>
<g id="n445"><circle class="w" cx="527" cy="548" r="5.8"/></g>
<g id="n446"><circle class="g" cx="540" cy="559" r="5.8"/></g>
<g id="n447"><circle class="w" cx="558" cy="558" r="5.8"/></g>
<g id="n448"><circle class="w" cx="502" cy="557" r="5.8"/></g>
<g id="n449"><circle class="w" cx="483" cy="567" r="5.8"/></g>
<g id="n450"><circle class="g" cx="566" cy="572" r="5.8"/></g>
<g id="n451"><circle class="w" cx="584" cy="573" r="5.8"/></g>
<g id="n452"><circle class="w" cx="603" cy="571" r="5.8"/></g>
<g id="n453"><circle class="w" cx="353" cy="565" r="5.8"/></g>
<g id="n454"><circle class="g" cx="384" cy="565" r="5.8"/></g>
<g id="n455"><circle class="w" cx="537" cy="579" r="5.8"/></g>
<g id="n456"><circle class="g" cx="517" cy="573" r="5.8"/></g>
<g id="n457"><circle class="w" cx="430" cy="573" r="5.8"/></g>
<g id="n458"><circle class="w" cx="399" cy="575" r="5.8"/></g>
<g id="n459"><circle class="w" cx="330" cy="565" r="5.8"/></g>
<g id="n460"><circle class="w" cx="567" cy="543" r="5.8"/></g>
<g id="n461"><circle class="w" cx="397" cy="582" r="5.8"/></g>
<g id="n462"><circle class="w" cx="402" cy="594" r="5.8"/></g>
<g id="n463"><circle class="w" cx="448" cy="587" r="5.8"/></g>
<g id="n464"><circle class="g" cx="556" cy="589" r="5.8"/></g>
<g id="n465"><circle class="w" cx="589" cy="593" r="5.8"/></g>
<g id="n466"><circle class="w" cx="498" cy="588" r="5.8"/></g>
<g id="n467"><circle class="w" cx="480" cy="594" r="5.8"/></g>
<g id="n468"><circle class="w" cx="377" cy="603" r="5.8"/></g>
<g id="n469"><circle class="g" cx="415" cy="605" r="5.8"/></g>
<g id="n470"><circle class="g" cx="443" cy="616" r="5.8"/></g>
<g id="n471"><circle class="g" cx="476" cy="616" r="5.8"/></g>
<g id="n472"><circle class="w" cx="498" cy="609" r="5.8"/></g>
<g id="n473"><circle class="w" cx="527" cy="598" r="5.8"/></g>
<g id="n474"><circle class="w" cx="542" cy="607" r="5.8"/></g>
<g id="n475"><circle class="w" cx="560" cy="606" r="5.8"/></g>
<g id="n476"><circle class="w" cx="579" cy="607" r="5.8"/></g>
<g id="n477"><circle class="g" cx="514" cy="619" r="5.8"/></g>
<g id="n478"><circle class="w" cx="538" cy="623" r="5.8"/></g>
<g id="n479"><circle class="w" cx="374" cy="625" r="5.8"/></g>
<g id="n480"><circle class="w" cx="393" cy="619" r="5.8"/></g>
<g id="n481"><circle class="w" cx="388" cy="638" r="5.8"/></g>
<g id="n482"><circle class="w" cx="414" cy="627" r="5.8"/></g>
<g id="n483"><circle class="w" cx="432" cy="635" r="5.8"/></g>
<g id="n484"><circle class="w" cx="444" cy="649" r="5.8"/></g>
<g id="n485"><circle class="w" cx="413" cy="647" r="5.8"/></g>
<g id="n486"><circle class="w" cx="426" cy="658" r="5.8"/></g>
<g id="n487"><circle class="w" cx="465" cy="637" r="5.8"/></g>
<g id="n488"><circle class="w" cx="494" cy="645" r="5.8"/></g>
<g id="n489"><circle class="g" cx="519" cy="647" r="5.8"/></g>
<g id="n490"><circle class="w" cx="547" cy="652" r="5.8"/></g>
<g id="n491"><circle class="w" cx="566" cy="648" r="5.8"/></g>
<g id="n492"><circle class="w" cx="580" cy="636" r="5.8"/></g>
<g id="n493"><circle class="w" cx="593" cy="650" r="5.8"/></g>
<g id="n494"><circle class="w" cx="392" cy="661" r="5.8"/></g>
<g id="n495"><circle class="g" cx="468" cy="660" r="5.8"/></g>
<g id="n496"><circle class="w" cx="545" cy="673" r="5.8"/></g>
<g id="n497"><circle class="w" cx="562" cy="669" r="5.8"/></g>
<g id="n498"><circle class="g" cx="583" cy="665" r="5.8"/></g>
<g id="n499"><circle class="w" cx="376" cy="682" r="5.8"/></g>
<g id="n500"><circle class="g" cx="358" cy="687" r="5.8"/></g>
<g id="n501"><circle class="w" cx="437" cy="683" r="5.8"/></g>
<g id="n502"><circle class="w" cx="461" cy="688" r="5.8"/></g>
<g id="n503"><circle class="w" cx="444" cy="701" r="5.8"/></g>
<g id="n504"><circle class="w" cx="394" cy="699" r="5.8"/></g>
<g id="n505"><circle class="g" cx="332" cy="738" r="5.8"/></g>
<g id="n506"><circle class="w" cx="351" cy="734" r="5.8"/></g>
<g id="n507"><circle class="w" cx="344" cy="651" r="5.8"/></g>
<g id="n508"><circle class="w" cx="520" cy="694" r="5.8"/></g>
<g id="n509"><circle class="w" cx="535" cy="706" r="5.8"/></g>
<g id="n510"><circle class="w" cx="504" cy="703" r="5.8"/></g>
<g id="n511"><circle class="g" cx="544" cy="728" r="5.8"/></g>
<g id="n512"><circle class="w" cx="493" cy="717" r="5.8"/></g>
<g id="n513"><circle class="w" cx="517" cy="714" r="5.8"/></g>
<g id="n514"><circle class="w" cx="486" cy="733" r="5.8"/></g>
<g id="n515"><circle class="w" cx="504" cy="731" r="5.8"/></g>
<g id="n516"><circle class="w" cx="522" cy="732" r="5.8"/></g>
<g id="n517"><circle class="w" cx="563" cy="732" r="5.8"/></g>
<g id="n518"><circle class="w" cx="567" cy="713" r="5.8"/></g>
<g id="n519"><circle class="w" cx="584" cy="704" r="5.8"/></g>
<g id="n520"><circle class="w" cx="579" cy="721" r="5.8"/></g>
<g id="n521"><circle class="w" cx="591" cy="729" r="5.8"/></g>
<g id="n522"><circle class="w" cx="590" cy="690" r="5.8"/></g>
<g id="n523"><circle class="w" cx="567" cy="693" r="5.8"/></g>
<g id="n524"><circle class="g" cx="629" cy="561" r="5.8"/></g>
<g id="n525"><circle class="w" cx="649" cy="572" r="5.8"/></g>
<g id="n526"><circle class="w" cx="668" cy="569" r="5.8"/></g>
<g id="n527"><circle class="w" cx="635" cy="588" r="5.8"/></g>
<g id="n528"><circle class="w" cx="659" cy="589" r="5.8"/></g>
<g id="n529"><circle class="w" cx="679" cy="585" r="5.8"/></g>
<g id="n530"><circle class="w" cx="717" cy="563" r="5.8"/></g>
<g id="n531"><circle class="g" cx="752" cy="564" r="5.8"/></g>
<g id="n532"><circle class="g" cx="721" cy="585" r="5.8"/></g>
<g id="n533"><circle class="g" cx="617" cy="610" r="5.8"/></g>
<g id="n534"><circle class="g" cx="641" cy="610" r="5.8"/></g>
<g id="n535"><circle class="w" cx="663" cy="606" r="5.8"/></g>
<g id="n536"><circle class="w" cx="687" cy="602" r="5.8"/></g>
<g id="n537"><circle class="g" cx="726" cy="604" r="5.8"/></g>
<g id="n538"><circle class="w" cx="752" cy="606" r="5.8"/></g>
<g id="n539"><circle class="w" cx="684" cy="619" r="5.8"/></g>
<g id="n540"><circle class="w" cx="704" cy="621" r="5.8"/></g>
<g id="n541"><circle class="w" cx="602" cy="630" r="5.8"/></g>
<g id="n542"><circle class="w" cx="657" cy="636" r="5.8"/></g>
<g id="n543"><circle class="w" cx="675" cy="633" r="5.8"/></g>
<g id="n544"><circle class="w" cx="702" cy="638" r="5.8"/></g>
<g id="n545"><circle class="w" cx="721" cy="631" r="5.8"/></g>
<g id="n546"><circle class="w" cx="612" cy="647" r="5.8"/></g>
<g id="n547"><circle class="w" cx="633" cy="657" r="5.8"/></g>
<g id="n548"><circle class="w" cx="649" cy="662" r="5.8"/></g>
<g id="n549"><circle class="g" cx="671" cy="658" r="5.8"/></g>
<g id="n550"><circle class="w" cx="688" cy="647" r="5.8"/></g>
<g id="n551"><circle class="w" cx="719" cy="648" r="5.8"/></g>
<g id="n552"><circle class="g" cx="737" cy="650" r="5.8"/></g>
<g id="n553"><circle class="w" cx="704" cy="656" r="5.8"/></g>
<g id="n554"><circle class="w" cx="625" cy="676" r="5.8"/></g>
<g id="n555"><circle class="w" cx="650" cy="679" r="5.8"/></g>
<g id="n556"><circle class="w" cx="676" cy="681" r="5.8"/></g>
<g id="n557"><circle class="g" cx="695" cy="671" r="5.8"/></g>
<g id="n558"><circle class="w" cx="712" cy="674" r="5.8"/></g>
<g id="n559"><circle class="w" cx="725" cy="665" r="5.8"/></g>
<g id="n560"><circle class="w" cx="749" cy="670" r="5.8"/></g>
<g id="n561"><circle class="w" cx="754" cy="692" r="5.8"/></g>
<g id="n562"><circle class="w" cx="728" cy="691" r="5.8"/></g>
<g id="n563"><circle class="w" cx="708" cy="691" r="5.8"/></g>
<g id="n564"><circle class="w" cx="691" cy="689" r="5.8"/></g>
<g id="n565"><circle class="g" cx="667" cy="688" r="5.8"/></g>
<g id="n566"><circle class="w" cx="605" cy="683" r="5.8"/></g>
<g id="n567"><circle class="g" cx="632" cy="693" r="5.8"/></g>
<g id="n568"><circle class="w" cx="617" cy="698" r="5.8"/></g>
<g id="n569"><circle class="w" cx="646" cy="704" r="5.8"/></g>
<g id="n570"><circle class="w" cx="677" cy="707" r="5.8"/></g>
<g id="n571"><circle class="w" cx="601" cy="706" r="5.8"/></g>
<g id="n572"><circle class="w" cx="619" cy="717" r="5.8"/></g>
<g id="n573"><circle class="w" cx="647" cy="719" r="5.8"/></g>
<g id="n574"><circle class="w" cx="662" cy="722" r="5.8"/></g>
<g id="n575"><circle class="w" cx="631" cy="724" r="5.8"/></g>
<g id="n576"><circle class="g" cx="611" cy="724" r="5.8"/></g>
<g id="n577"><circle class="g" cx="678" cy="733" r="5.8"/></g>
<g id="n578"><circle class="w" cx="717" cy="715" r="5.8"/></g>
<g id="n579"><circle class="w" cx="734" cy="712" r="5.8"/></g>
<g id="n580"><circle class="g" cx="759" cy="722" r="5.8"/></g>
<g id="n581"><circle class="w" cx="603" cy="743" r="5.8"/></g>
<g id="n582"><circle class="w" cx="579" cy="742" r="5.8"/></g>
<g id="n583"><circle class="w" cx="614" cy="735" r="5.8"/></g>
<g id="n584"><circle class="g" cx="629" cy="744" r="5.8"/></g>
<g id="n585"><circle class="w" cx="638" cy="737" r="5.8"/></g>
<g id="n586"><circle class="w" cx="657" cy="743" r="5.8"/></g>
<g id="n587"><circle class="w" cx="668" cy="753" r="5.8"/></g>
<g id="n588"><circle class="w" cx="644" cy="747" r="5.8"/></g>
<g id="n589"><circle class="w" cx="720" cy="743" r="5.8"/></g>
<g id="n590"><circle class="g" cx="693" cy="757" r="5.8"/></g>
<g id="n591"><circle class="g" cx="686" cy="766" r="5.8"/></g>
<g id="n592"><circle class="w" cx="736" cy="761" r="5.8"/></g>
<g id="n593"><circle class="w" cx="720" cy="772" r="5.8"/></g>
<g id="n594"><circle class="w" cx="742" cy="776" r="5.8"/></g>
<g id="n595"><circle class="w" cx="558" cy="761" r="5.8"/></g>
<g id="n596"><circle class="w" cx="588" cy="758" r="5.8"/></g>
<g id="n597"><circle class="w" cx="602" cy="759" r="5.8"/></g>
<g id="n598"><circle class="w" cx="617" cy="754" r="5.8"/></g>
<g id="n599"><circle class="w" cx="638" cy="757" r="5.8"/></g>
<g id="n600"><circle class="w" cx="653" cy="760" r="5.8"/></g>
<g id="n601"><circle class="w" cx="565" cy="773" r="5.8"/></g>
<g id="n602"><circle class="w" cx="591" cy="773" r="5.8"/></g>
<g id="n603"><circle class="w" cx="621" cy="768" r="5.8"/></g>
<g id="n604"><circle class="w" cx="642" cy="771" r="5.8"/></g>
<g id="n605"><circle class="w" cx="659" cy="769" r="5.8"/></g>
<g id="n606"><circle class="g" cx="608" cy="777" r="5.8"/></g>
<g id="n607"><circle class="w" cx="630" cy="778" r="5.8"/></g>
<g id="n608"><circle class="w" cx="535" cy="743" r="5.8"/></g>
<g id="n609"><circle class="w" cx="486" cy="751" r="5.8"/></g>
<g id="n610"><circle class="w" cx="502" cy="747" r="5.8"/></g>
<g id="n611"><circle class="w" cx="517" cy="751" r="5.8"/></g>
<g id="n612"><circle class="w" cx="532" cy="760" r="5.8"/></g>
<g id="n613"><circle class="w" cx="498" cy="765" r="5.8"/></g>
<g id="n614"><circle class="w" cx="514" cy="768" r="5.8"/></g>
<g id="n615"><circle class="w" cx="533" cy="774" r="5.8"/></g>
<g id="n616"><circle class="w" cx="570" cy="758" r="5.8"/></g>
<g id="n617"><circle class="w" cx="633" cy="781" r="5.8"/></g>
<g id="n618"><circle class="g" cx="478" cy="781" r="5.8"/></g>
<g id="n619"><circle class="g" cx="507" cy="785" r="5.8"/></g>
<g id="n620"><circle class="w" cx="523" cy="787" r="5.8"/></g>
<g id="n621"><circle class="w" cx="553" cy="780" r="5.8"/></g>
<g id="n622"><circle class="w" cx="541" cy="796" r="5.8"/></g>
<g id="n623"><circle class="w" cx="575" cy="783" r="5.8"/></g>
<g id="n624"><circle class="g" cx="587" cy="795" r="5.8"/></g>
<g id="n625"><circle class="w" cx="603" cy="788" r="5.8"/></g>
<g id="n626"><circle class="g" cx="621" cy="782" r="5.8"/></g>
<g id="n627"><circle class="g" cx="628" cy="796" r="5.8"/></g>
<g id="n628"><circle class="g" cx="660" cy="786" r="5.8"/></g>
<g id="n629"><circle class="w" cx="713" cy="790" r="5.8"/></g>
<g id="n630"><circle class="w" cx="733" cy="792" r="5.8"/></g>
<g id="n631"><circle class="w" cx="695" cy="798" r="5.8"/></g>
<g id="n632"><circle class="w" cx="721" cy="808" r="5.8"/></g>
<g id="n633"><circle class="w" cx="745" cy="811" r="5.8"/></g>
<g id="n634"><circle class="w" cx="681" cy="810" r="5.8"/></g>
<g id="n635"><circle class="w" cx="701" cy="817" r="5.8"/></g>
<g id="n636"><circle class="w" cx="573" cy="810" r="5.8"/></g>
<g id="n637"><circle class="w" cx="590" cy="818" r="5.8"/></g>
<g id="n638"><circle class="w" cx="613" cy="813" r="5.8"/></g>
<g id="n639"><circle class="w" cx="640" cy="813" r="5.8"/></g>
<g id="n640"><circle class="w" cx="625" cy="821" r="5.8"/></g>
<g id="n641"><circle class="g" cx="566" cy="824" r="5.8"/></g>
<g id="n642"><circle class="w" cx="604" cy="826" r="5.8"/></g>
<g id="n643"><circle class="w" cx="657" cy="825" r="5.8"/></g>
<g id="n644"><circle class="w" cx="677" cy="827" r="5.8"/></g>
<g id="n645"><circle class="w" cx="696" cy="833" r="5.8"/></g>
<g id="n646"><circle class="w" cx="482" cy="817" r="5.8"/></g>
<g id="n647"><circle class="w" cx="501" cy="831" r="5.8"/></g>
<g id="n648"><circle class="w" cx="465" cy="837" r="5.8"/></g>
<g id="n649"><circle class="w" cx="582" cy="834" r="5.8"/></g>
<g id="n650"><circle class="w" cx="600" cy="841" r="5.8"/></g>
<g id="n651"><circle class="w" cx="620" cy="845" r="5.8"/></g>
<g id="n652"><circle class="w" cx="637" cy="841" r="5.8"/></g>
<g id="n653"><circle class="w" cx="654" cy="841" r="5.8"/></g>
<g id="n654"><circle class="w" cx="655" cy="856" r="5.8"/></g>
<g id="n655"><circle class="w" cx="605" cy="858" r="5.8"/></g>
<g id="n656"><circle class="w" cx="623" cy="862" r="5.8"/></g>
<g id="n657"><circle class="w" cx="639" cy="859" r="5.8"/></g>
<g id="n658"><circle class="w" cx="680" cy="843" r="5.8"/></g>
<g id="n659"><circle class="w" cx="551" cy="869" r="5.8"/></g>
<g id="n660"><circle class="g" cx="715" cy="857" r="5.8"/></g>
<g id="n661"><circle class="w" cx="748" cy="874" r="5.8"/></g>
<g id="n662"><circle class="w" cx="707" cy="897" r="5.8"/></g>
<g id="n663"><circle class="w" cx="729" cy="890" r="5.8"/></g>
<g id="n664"><circle class="w" cx="751" cy="900" r="5.8"/></g>
<g id="n665"><circle class="w" cx="725" cy="924" r="5.8"/></g>
<g id="n666"><circle class="g" cx="773" cy="928" r="5.8"/></g>
<g id="n667"><circle class="g" cx="733" cy="977" r="5.8"/></g>
<g id="n668"><circle class="w" cx="715" cy="1002" r="5.8"/></g>
<g id="n669"><circle class="w" cx="738" cy="1011" r="5.8"/></g>
<g id="n670"><circle class="w" cx="759" cy="995" r="5.8"/></g>
<g id="n671"><circle class="g" cx="401" cy="762" r="5.8"/></g>
<g id="n672"><circle class="g" cx="385" cy="753" r="5.8"/></g>
<g id="n673"><circle class="g" cx="363" cy="753" r="5.8"/></g>
<g id="n674"><circle class="w" cx="303" cy="752" r="5.8"/></g>
<g id="n675"><circle class="w" cx="330" cy="761" r="5.8"/></g>
<g id="n676"><circle class="w" cx="345" cy="776" r="5.8"/></g>
<g id="n677"><circle class="w" cx="363" cy="780" r="5.8"/></g>
<g id="n678"><circle class="w" cx="275" cy="766" r="5.8"/></g>
<g id="n679"><circle class="w" cx="291" cy="782" r="5.8"/></g>
<g id="n680"><circle class="w" cx="327" cy="784" r="5.8"/></g>
<g id="n681"><circle class="w" cx="347" cy="797" r="5.8"/></g>
<g id="n682"><circle class="w" cx="379" cy="793" r="5.8"/></g>
<g id="n683"><circle class="w" cx="422" cy="752" r="5.8"/></g>
<g id="n684"><circle class="w" cx="405" cy="790" r="5.8"/></g>
<g id="n685"><circle class="w" cx="405" cy="811" r="5.8"/></g>
<g id="n686"><circle class="g" cx="231" cy="786" r="5.8"/></g>
<g id="n687"><circle class="w" cx="199" cy="800" r="5.8"/></g>
<g id="n688"><circle class="w" cx="302" cy="809" r="5.8"/></g>
<g id="n689"><circle class="g" cx="255" cy="813" r="5.8"/></g>
<g id="n690"><circle class="w" cx="227" cy="833" r="5.8"/></g>
<g id="n691"><circle class="g" cx="373" cy="829" r="5.8"/></g>
<g id="n692"><circle class="w" cx="352" cy="853" r="5.8"/></g>
<g id="n693"><circle class="w" cx="377" cy="861" r="5.8"/></g>
<g id="n694"><circle class="w" cx="324" cy="857" r="5.8"/></g>
<g id="n695"><circle class="g" cx="279" cy="872" r="5.8"/></g>
<g id="n696"><circle class="w" cx="245" cy="874" r="5.8"/></g>
<g id="n697"><circle class="w" cx="260" cy="891" r="5.8"/></g>
<g id="n698"><circle class="w" cx="292" cy="900" r="5.8"/></g>
<g id="n699"><circle class="w" cx="245" cy="909" r="5.8"/></g>
<g id="n700"><circle class="w" cx="273" cy="912" r="5.8"/></g>
<g id="n701"><circle class="g" cx="224" cy="933" r="5.8"/></g>
<g id="n702"><circle class="w" cx="357" cy="879" r="5.8"/></g>
<g id="n703"><circle class="g" cx="348" cy="913" r="5.8"/></g>
<g id="n704"><circle class="g" cx="427" cy="871" r="5.8"/></g>
<g id="n705"><circle class="w" cx="402" cy="900" r="5.8"/></g>
<g id="n706"><circle class="w" cx="423" cy="897" r="5.8"/></g>
<g id="n707"><circle class="w" cx="446" cy="904" r="5.8"/></g>
<g id="n708"><circle class="w" cx="423" cy="918" r="5.8"/></g>
</g>
</svg>
